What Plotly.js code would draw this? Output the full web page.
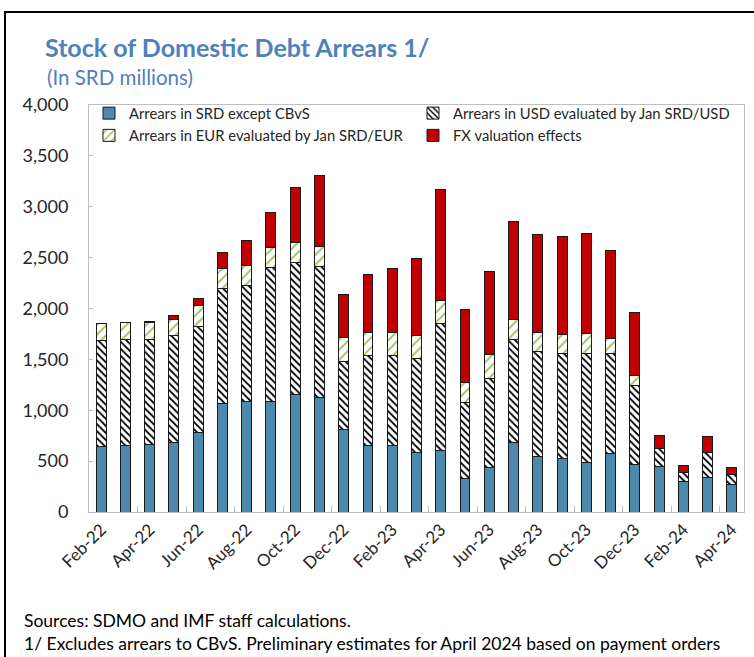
<!DOCTYPE html>
<html>
<head>
<meta charset="utf-8">
<script src="https://cdn.plot.ly/plotly-3.0.1.min.js"></script>
<style>
  html, body { margin: 0; padding: 0; background: #fff; }
  #chart { width: 754px; height: 657px; }
</style>
</head>
<body>
<div id="chart"></div>
<script>
// Months (categories)
const months = ["Feb-22","Mar-22","Apr-22","May-22","Jun-22","Jul-22","Aug-22","Sep-22","Oct-22","Nov-22","Dec-22",
                "Jan-23","Feb-23","Mar-23","Apr-23","May-23","Jun-23","Jul-23","Aug-23","Sep-23","Oct-23","Nov-23","Dec-23",
                "Jan-24","Feb-24","Mar-24","Apr-24"];
// Series (SRD millions)
const arrearsSRD = [645,652,661,688,782,1064,1084,1084,1159,1126,809,652,652,589,609,327,439,681,547,521,485,576,471,449,301,337,275];
const arrearsUSD = [1038,1047,1032,1044,1042,1130,1142,1316,1290,1284,671,884,884,917,1241,750,877,1018,1028,1034,1077,986,770,176,92,246,98];
const arrearsEUR = [170,167,173,164,203,203,200,200,203,203,232,229,229,229,229,200,229,193,190,190,193,147,98,0,0,0,0];
const fxEffects  = [0,0,4,36,68,157,239,340,537,694,423,566,625,757,1087,710,819,966,962,959,982,864,622,125,62,157,69];

const seriesNames = ["Arrears in SRD except CBvS","Arrears in USD evaluated by Jan SRD/USD",
                     "Arrears in EUR evaluated by Jan SRD/EUR","FX valuation effects"];

const FONT = "Lato, 'Open Sans', sans-serif";
const outline = {color: "#1a1a1a", width: 1};

const traces = [
  {type: "bar", name: seriesNames[0], x: months, y: arrearsSRD,
   marker: {color: "#4b8aad", line: outline}},
  {type: "bar", name: seriesNames[1], x: months, y: arrearsUSD,
   marker: {color: "#ffffff", line: outline,
            pattern: {shape: "\\", fgcolor: "#000000", bgcolor: "#ffffff", size: 5, solidity: 0.35}}},
  {type: "bar", name: seriesNames[2], x: months, y: arrearsEUR,
   marker: {color: "#ffffff", line: outline,
            pattern: {shape: "/", fgcolor: "#9bbb59", bgcolor: "#ffffff", size: 7, solidity: 0.25}}},
  {type: "bar", name: seriesNames[3], x: months, y: fxEffects,
   marker: {color: "#c00000", line: outline}}
];

const L = 89, R = 744, T = 105, B = 512, W = 754, H = 657;
const px = v => (v - L) / (R - L);
const py = v => (B - v) / (B - T);

const layout = {
  width: W, height: H,
  margin: {l: L, r: W - R, t: T, b: H - B},
  paper_bgcolor: "#ffffff", plot_bgcolor: "#ffffff",
  barmode: "stack", bargap: 0.59,
  font: {family: FONT, color: "#262626"},
  title: {text: "<b>Stock of Domestic Debt Arrears 1/</b>", font: {family: FONT, size: 25, color: "#4f81bd"},
          xref: "container", yref: "container", x: 45 / W, xanchor: "left", y: 1 - 48 / H, yanchor: "middle"},
  showlegend: true,
  legend: {orientation: "h", x: 0, y: py(97), xanchor: "left", yanchor: "top",
           entrywidth: 279, entrywidthmode: "pixels", traceorder: "normal",
           font: {family: FONT, size: 14.8, color: "#262626"}, bgcolor: "rgba(0,0,0,0)",
           itemwidth: 30, tracegroupgap: 0},
  xaxis: {type: "category", tickmode: "linear", tick0: 0, dtick: 2, tickson: "boundaries",
          ticks: "inside", ticklen: 6, tickcolor: "#bfbfbf", tickangle: -45,
          tickfont: {family: FONT, size: 17, color: "#262626"},
          showline: true, linecolor: "#bfbfbf", linewidth: 1, mirror: true,
          showgrid: false, zeroline: false, range: [-0.5, 26.5], fixedrange: true},
  yaxis: {range: [0, 4000], tickmode: "linear", tick0: 0, dtick: 500, tickformat: ",",
          ticks: "inside", ticklen: 4, tickcolor: "#bfbfbf", ticklabelstandoff: 16,
          tickfont: {family: FONT, size: 18, color: "#262626"},
          showline: true, linecolor: "#bfbfbf", linewidth: 1, mirror: true,
          showgrid: false, zeroline: false, fixedrange: true},
  annotations: [
    {text: "(In SRD millions)", xref: "paper", yref: "paper", x: px(45), y: py(77),
     xanchor: "left", yanchor: "middle", showarrow: false,
     font: {family: FONT, size: 20.5, color: "#4f81bd"}},
    {text: "Sources: SDMO and IMF staff calculations.", xref: "paper", yref: "paper", x: px(22), y: py(620),
     xanchor: "left", yanchor: "middle", showarrow: false,
     font: {family: FONT, size: 17.5, color: "#000000"}},
    {text: "1/ Excludes arrears to CBvS. Preliminary estimates for April 2024 based on payment orders",
     xref: "paper", yref: "paper", x: px(22), y: py(643),
     xanchor: "left", yanchor: "middle", showarrow: false,
     font: {family: FONT, size: 17.5, color: "#000000"}}
  ],
  shapes: [
    {type: "rect", xref: "paper", yref: "paper", x0: px(5), x1: px(W + 20), y0: py(H + 20), y1: py(12),
     line: {color: "#000000", width: 2}, fillcolor: "rgba(0,0,0,0)", layer: "above"}
  ]
};

Plotly.newPlot("chart", traces, layout, {displayModeBar: false, staticPlot: true});
</script>
</body>
</html>
